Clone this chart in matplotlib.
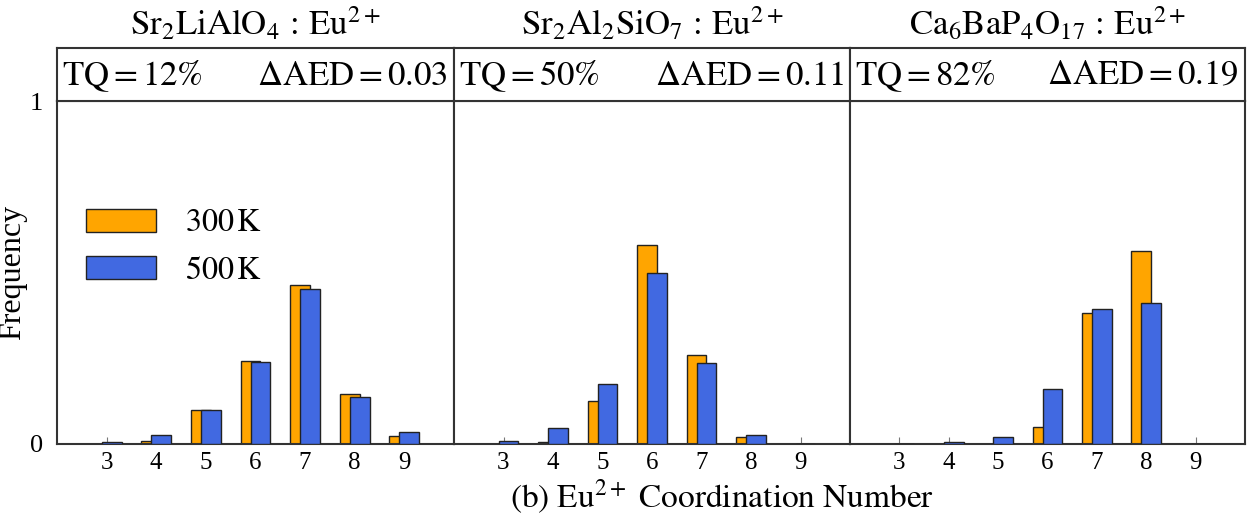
import numpy as np
import matplotlib
matplotlib.use("Agg")
import matplotlib.pyplot as plt

plt.rcParams["font.family"] = ["Liberation Serif", "DejaVu Serif"]
plt.rcParams["mathtext.fontset"] = "stix"

coord_numbers = [3, 4, 5, 6, 7, 8, 9]

titles = [r"$\mathrm{Sr_2LiAlO_4}\,:\,\mathrm{Eu^{2+}}$",
          r"$\mathrm{Sr_2Al_2SiO_7}\,:\,\mathrm{Eu^{2+}}$",
          r"$\mathrm{Ca_6BaP_4O_{17}}\,:\,\mathrm{Eu^{2+}}$"]
tq_labels = ["12", "50", "82"]
daed_labels = ["0.03", "0.11", "0.19"]

freq_300k_sr2lialo4 = [0.0, 0.009, 0.100, 0.243, 0.464, 0.146, 0.023]
freq_500k_sr2lialo4 = [0.005, 0.026, 0.100, 0.240, 0.451, 0.137, 0.035]
freq_300k_sr2al2sio7 = [0.0, 0.007, 0.124, 0.581, 0.259, 0.020, 0.0]
freq_500k_sr2al2sio7 = [0.010, 0.047, 0.175, 0.499, 0.236, 0.026, 0.0]
freq_300k_ca6bap4o17 = [0.0, 0.0, 0.0, 0.050, 0.382, 0.564, 0.0]
freq_500k_ca6bap4o17 = [0.0, 0.007, 0.020, 0.160, 0.394, 0.411, 0.0]

series_300k = [freq_300k_sr2lialo4, freq_300k_sr2al2sio7, freq_300k_ca6bap4o17]
series_500k = [freq_500k_sr2lialo4, freq_500k_sr2al2sio7, freq_500k_ca6bap4o17]

W, H = 1247, 520
fig = plt.figure(figsize=(W / 100, H / 100), dpi=100)

frame_color = "#333333"
panel_edges = [57, 454, 850, 1245]
plot_bottom, plot_top, head_top = 444, 101, 48

x = np.array(coord_numbers, dtype=float)
bar_w = 0.4

for i in range(3):
    x0, x1 = panel_edges[i], panel_edges[i + 1]
    ax = fig.add_axes([x0 / W, (H - plot_bottom) / H, (x1 - x0) / W,
                       (plot_bottom - plot_top) / H])
    hx = fig.add_axes([x0 / W, (H - plot_top) / H, (x1 - x0) / W,
                       (plot_top - head_top) / H])

    ax.bar(x - 0.1, series_300k[i], width=bar_w, color="#FFA500",
           edgecolor="#222222", linewidth=1.0, label=r"$300\,\mathrm{K}$", zorder=2)
    ax.bar(x + 0.1, series_500k[i], width=bar_w, color="#4169E1",
           edgecolor="#222222", linewidth=1.0, label=r"$500\,\mathrm{K}$", zorder=3)

    ax.set_xlim(2, 10)
    ax.set_ylim(0, 1)
    ax.set_xticks(coord_numbers)
    ax.set_xticklabels([str(c) for c in coord_numbers], fontsize=18)
    ax.tick_params(axis="x", direction="in", length=5, color="#777777", pad=6)
    if i == 0:
        ax.set_yticks([0, 1])
        ax.set_yticklabels(["0", "1"], fontsize=19)
        ax.tick_params(axis="y", length=0, pad=10)
        ax.set_ylabel("Frequency", fontsize=23)
        ax.yaxis.set_label_coords(-0.075, 0.5)
        ax.legend(loc="upper left", bbox_to_anchor=(0.0, 0.77), frameon=False,
                  fontsize=23, handlelength=2.2, handleheight=0.75,
                  handletextpad=0.9, labelspacing=0.55)
    else:
        ax.set_yticks([])
    for s in ax.spines.values():
        s.set_color(frame_color)
        s.set_linewidth(1.5)

    hx.set_xticks([])
    hx.set_yticks([])
    hx.set_xlim(0, 1)
    hx.set_ylim(0, 1)
    for s in hx.spines.values():
        s.set_color(frame_color)
        s.set_linewidth(1.5)
    hx.text(0.012, 0.47, r"$\mathrm{TQ}=" + tq_labels[i] + r"\%$", fontsize=25,
            ha="left", va="center", transform=hx.transAxes)
    hx.text(0.985, 0.47, r"$\Delta\mathrm{AED}=" + daed_labels[i] + r"$", fontsize=25,
            ha="right", va="center", transform=hx.transAxes)

    fig.text((x0 + x1) / 2 / W, (H - 24) / H, titles[i], fontsize=25,
             ha="center", va="center")

fig.text(722 / W, (H - 508) / H,
         r"$\mathrm{(b)\ Eu^{2+}\ Coordination\ Number}$", fontsize=24,
         ha="center", va="baseline")

fig.savefig("out.png", dpi=100)
